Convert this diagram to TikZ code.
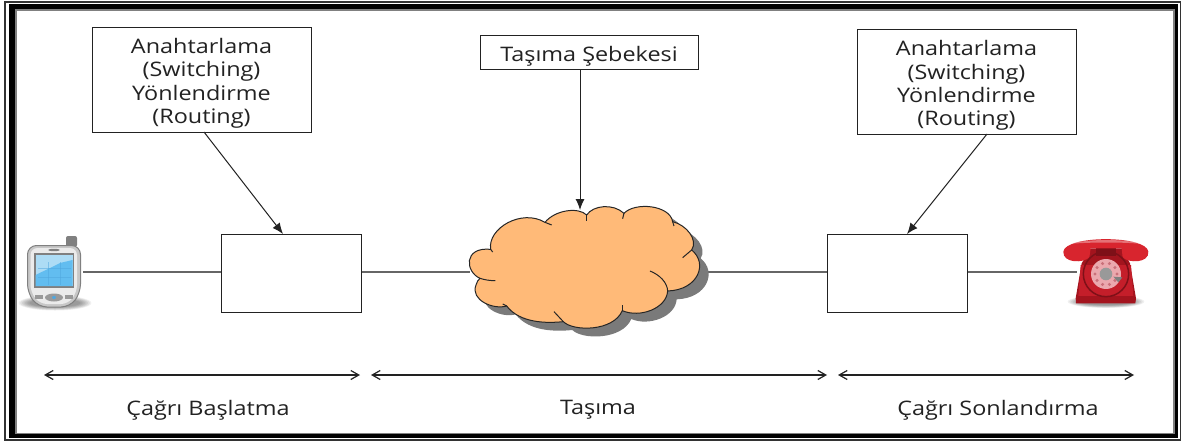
\documentclass[tikz,border=0pt]{standalone}
\usepackage{fontspec}
\setmainfont[FakeStretch=1.17]{Open Sans}
\usetikzlibrary{arrows.meta}
\definecolor{ink}{HTML}{222222}
\definecolor{lin}{HTML}{666666}
\definecolor{scrA}{HTML}{ADDCF5}
\definecolor{scrB}{HTML}{62BDF0}
\definecolor{scrG}{HTML}{4FA6DE}
\definecolor{telA}{HTML}{C41E2A}
\definecolor{telB}{HTML}{D8252E}
\definecolor{telC}{HTML}{A3141E}
\definecolor{telD}{HTML}{7E1018}
\definecolor{dial}{HTML}{EBA8AE}
\definecolor{dialh}{HTML}{C9707A}
\tikzset{
  x=1pt,y=-1pt,
  txtbox/.style={draw=ink,line width=1pt,fill=white,align=center,inner sep=0pt,text=ink,font=\fontsize{20}{23.2}\selectfont},
  plainbox/.style={draw=ink,line width=1pt,fill=white,inner sep=0pt},
  wire/.style={draw=lin,line width=1.2pt},
  pointer/.style={draw=ink,line width=1pt,-{Latex[length=11pt,width=9pt]}},
  span/.style={draw=ink,line width=1.2pt,{Straight Barb[length=8pt,width=9pt]}-{Straight Barb[length=8pt,width=9pt]}},
  lab/.style={text=ink,font=\fontsize{20}{22}\selectfont},
  icon/.style={inner sep=0pt,minimum width=#1},
  cloudline/.style={draw=black!85,line width=1pt},
}
\def\cloudpath{
 (122,178) .. controls (112,115) and (215,55) .. (285,97)
 .. controls (315,60) and (385,50) .. (410,75)
 .. controls (430,45) and (490,40) .. (522,70)
 .. controls (555,35) and (660,45) .. (668,95)
 .. controls (710,105) and (745,150) .. (725,180)
 .. controls (775,220) and (745,300) .. (653,303)
 .. controls (650,355) and (570,385) .. (517,362)
 .. controls (490,425) and (370,425) .. (340,395)
 .. controls (290,400) and (210,400) .. (170,348)
 .. controls (130,360) and (60,330) .. (78,285)
 .. controls (80,275) and (85,270) .. (90,265)
 .. controls (45,245) and (40,170) .. (122,178) -- cycle}
\begin{document}
\begin{tikzpicture}
\useasboundingbox (0,0) rectangle (1185,442);
\fill[white] (0,0) rectangle (1185,442);
% frame
\draw[black!80,line width=1.2pt] (5,2) rectangle (1180.5,440);
\fill[black] (9,4) rectangle (1178,438);
\fill[black!50] (15,9) rectangle (1174.5,434);
\fill[white] (17,11) rectangle (1173,433);
% named nodes
\node[icon=54pt,minimum height=62pt] (pda) at (54,276) {};
\node[icon=84pt,minimum height=66pt] (tel) at (1106,272) {};
\node[inner sep=0pt,minimum width=235pt,minimum height=124pt] (cloud) at (587.5,272) {};
\coordinate (cloudtop) at (580,210);
\node[plainbox,minimum width=140pt,minimum height=78pt] (sqa) at (291,273) {};
\node[plainbox,minimum width=140pt,minimum height=78pt] (sqb) at (897,273) {};
\coordinate (sqain) at (283,234);
\coordinate (sqbin) at (907,234);
\node[txtbox,minimum width=219pt,minimum height=105pt] (boxa) at (201.5,79.5) {\rule{0pt}{23pt}Anahtarlama\\(Switching)\\Yönlendirme\\(Routing)};
\node[txtbox,minimum width=218pt,minimum height=34pt] (boxb) at (589,52) {\rule{0pt}{23pt}Taşıma Şebekesi};
\node[txtbox,minimum width=219pt,minimum height=105pt] (boxc) at (966.5,81.5) {\rule{0pt}{23pt}Anahtarlama\\(Switching)\\Yönlendirme\\(Routing)};
\coordinate (boxaout) at (204,132);
\coordinate (boxbout) at (580,69);
\coordinate (boxcout) at (987,134);
% wires
\draw[wire] (83,272) -- (sqa.west |- 0,272);
\draw[wire] (sqa.east |- 0,272) -- (cloud.west);
\draw[wire] (cloud.east) -- (sqb.west |- 0,272);
\draw[wire] (sqb.east |- 0,272) -- (1077,272);
% cloud
\begin{scope}[shift={(450,190)},x=0.3333pt,y=-0.3333pt]
 \fill[black!52,shift={(27,25)}] \cloudpath;
 \path[fill={rgb,255:red,255;green,186;blue,120},cloudline] \cloudpath;
 \foreach \a/\b/\c/\d in {285/97/305/105, 410/75/410/92, 522/70/518/86, 668/95/672/108, 725/180/698/203, 517/362/517/344, 340/395/312/365, 170/348/158/342, 122/178/128/186}
   \draw[cloudline] (\a,\b) -- (\c,\d);
 \draw[cloudline] (600,243) .. controls (630,255) and (652,278) .. (653,303);
 \draw[cloudline] (90,265) .. controls (105,270) and (120,272) .. (136,272);
\end{scope}
% pointers
\draw[pointer] (boxaout) -- (sqain);
\draw[pointer] (boxbout) -- (cloudtop);
\draw[pointer] (boxcout) -- (sqbin);
% PDA
\begin{scope}
 \foreach \i in {1,...,8} \fill[black,opacity=.06] (55,303) ellipse ({38-\i*1.6} and {8-\i*.5});
 \fill[black!50,rounded corners=2pt] (66,236) rectangle (77,247);
 \fill[black!22,draw=black!50,line width=1pt,rounded corners=9pt] (27.5,245.5) -- (80.5,245.5) -- (80.5,293) -- (70,307) -- (38,307) -- (27.5,293) -- cycle;
 \fill[black!8,rounded corners=7pt] (30.5,248) -- (77,248) -- (77,292) -- (68,304) -- (40,304) -- (30.5,292) -- cycle;
 \fill[black!50] (34,253) rectangle (74,287.5);
 \fill[scrA] (35.5,254.5) rectangle (72.5,286);
 \fill[scrB] (35.5,275) -- (50,268) -- (60,263) -- (72.5,260) -- (72.5,286) -- (35.5,286) -- cycle;
 \foreach \x in {48,60} \draw[scrG,opacity=.5,line width=.6pt] (\x,262) -- (\x,285);
 \foreach \y in {268,277} \draw[scrG,opacity=.5,line width=.6pt] (38,\y) -- (71,\y);
 \fill[black!50] (54,250) ellipse (6 and 1.2);
 \fill[black!40] (35,295) rectangle (43,299);
 \fill[black!40] (65,295) rectangle (73,299);
 \fill[black!40] (54,297.5) ellipse (9 and 4);
 \fill[scrG] (54,297.5) ellipse (2 and 1.5);
\end{scope}
% telephone
\begin{scope}[shift={(1030,220)},x=0.3333pt,y=-0.3333pt]
 \foreach \i in {1,...,8} \fill[black,opacity=.06] (228,245) ellipse ({120-\i*5} and {20-\i*1.2});
 \fill[telC] (182,85) -- (275,85) -- (300,130) -- (318,235) -- (316,250) -- (138,250) -- (137,235) -- (155,130) -- cycle;
 \fill[telA] (145,228) -- (310,228) -- (303,135) -- (152,135) -- cycle;
 \fill[telD] (198,85) rectangle (258,108);
 \fill[telB] (100,95) .. controls (105,45) and (350,45) .. (355,95) .. controls (358,130) and (295,130) .. (278,112) -- (275,85) -- (182,85) -- (178,112) .. controls (160,130) and (98,130) .. (100,95) -- cycle;
 \fill[white,opacity=.35] (115,72) .. controls (180,56) and (280,56) .. (340,72) .. controls (280,66) and (180,66) .. (115,72) -- cycle;
 \draw[telD,line width=1.5pt] (228,162) circle (68);
 \fill[dial] (228,162) circle (45);
 \foreach \t in {0,36,...,324} \fill[dialh] (228,162) ++(\t:33) circle (5);
 \fill[black!40] (228,162) circle (19);
 \fill[black!50] (250,170) -- (277,172) -- (265,187) -- cycle;
\end{scope}
% spans
\coordinate (sa) at (44,375); \coordinate (sb) at (360,375);
\coordinate (sc) at (371,375); \coordinate (sd) at (827,375);
\coordinate (se) at (838,375); \coordinate (sf) at (1134,375);
\draw[span] (sa) -- (sb);
\draw[span] (sc) -- (sd);
\draw[span] (se) -- (sf);
\node[lab] (la) at (208,410) {Çağrı Başlatma};
\node[lab] (lb) at (598,410) {Taşıma};
\node[lab] (lc) at (998,410) {Çağrı Sonlandırma};
\end{tikzpicture}
\end{document}
